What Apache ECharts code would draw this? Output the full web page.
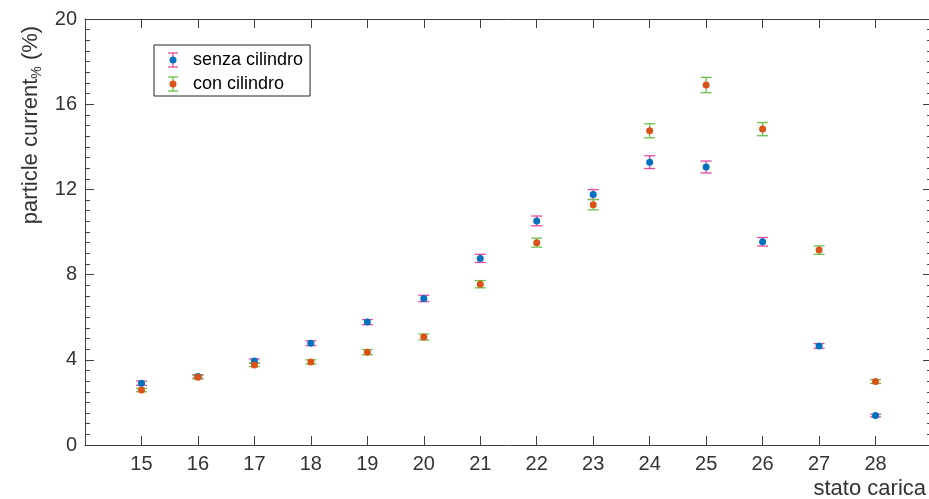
<!DOCTYPE html>
<html>
<head>
<meta charset="utf-8">
<script src="https://cdn.jsdelivr.net/npm/echarts@6/dist/echarts.min.js"></script>
<style>
html,body{margin:0;padding:0;background:#fff;}
#chart{width:929px;height:499px;}
</style>
</head>
<body>
<div id="chart"></div>
<script>
// ---- data ----
const categories = [15, 16, 17, 18, 19, 20, 21, 22, 23, 24, 25, 26, 27, 28];
const senzaValues = [2.90, 3.22, 3.94, 4.78, 5.77, 6.88, 8.76, 10.52, 11.76, 13.28, 13.05, 9.54, 4.65, 1.38];
const senzaErr    = [0.10, 0.08, 0.10, 0.11, 0.12, 0.15, 0.19, 0.23, 0.23, 0.30, 0.28, 0.20, 0.11, 0.06];
const conValues   = [2.58, 3.18, 3.76, 3.90, 4.36, 5.07, 7.55, 9.50, 11.28, 14.75, 16.90, 14.83, 9.15, 2.98];
const conErr      = [0.08, 0.08, 0.08, 0.10, 0.12, 0.14, 0.17, 0.21, 0.24, 0.33, 0.36, 0.31, 0.20, 0.09];
const yTicks = [0, 4, 8, 12, 16, 20];
const seriesNames = ['senza cilindro', 'con cilindro'];

const FONT = '"Liberation Sans", Arial, Helvetica, sans-serif';
const AX = '#404040';
const TXT = '#333333';
const blue = '#0072BD', orange = '#D95319';
const pink = '#E64A9E', green = '#6CBF4A';

function errData(vals, errs) { return categories.map((c, i) => [c, vals[i], errs[i]]); }
function ptData(vals) { return categories.map((c, i) => [c, vals[i]]); }

function errRender(color) {
  return function (params, api) {
    const x = api.value(0), y = api.value(1), e = api.value(2);
    const t = api.coord([x, y + e]);
    const b = api.coord([x, y - e]);
    const hw = 5.5;
    const st = { stroke: color, lineWidth: 1.3 };
    return {
      type: 'group',
      children: [
        { type: 'line', shape: { x1: t[0], y1: t[1], x2: b[0], y2: b[1] }, style: st },
        { type: 'line', shape: { x1: t[0] - hw, y1: t[1], x2: t[0] + hw, y2: t[1] }, style: st },
        { type: 'line', shape: { x1: b[0] - hw, y1: b[1], x2: b[0] + hw, y2: b[1] }, style: st }
      ]
    };
  };
}

function xAxisCfg(pos, labels) {
  return {
    type: 'value', position: pos, min: 14, max: 29, interval: 1,
    axisLine: { show: true, onZero: false, lineStyle: { color: AX, width: 1 } },
    axisTick: { show: true, inside: true, length: 9, lineStyle: { color: AX, width: 1 } },
    axisLabel: {
      show: labels, margin: 9, fontSize: 20, fontFamily: FONT, color: TXT,
      formatter: v => (categories.indexOf(v) >= 0 ? String(v) : '')
    },
    splitLine: { show: false }
  };
}
function yAxisCfg(pos, labels) {
  return {
    type: 'value', position: pos, min: yTicks[0], max: yTicks[yTicks.length - 1],
    interval: yTicks[1] - yTicks[0],
    axisLine: { show: true, onZero: false, lineStyle: { color: AX, width: 1 } },
    axisTick: { show: true, inside: true, length: 9, lineStyle: { color: AX, width: 1 } },
    minorTick: { show: true, splitNumber: 8, length: 5, lineStyle: { color: AX, width: 1 } },
    axisLabel: { show: labels, margin: 8, fontSize: 20, fontFamily: FONT, color: TXT },
    splitLine: { show: false }, minorSplitLine: { show: false }
  };
}

function legendIcon(cx, cy, barColor, dotColor) {
  const st = { stroke: barColor, lineWidth: 1.3 };
  return [
    { type: 'line', z: 100, shape: { x1: cx - 5, y1: cy - 7, x2: cx + 5, y2: cy - 7 }, style: st },
    { type: 'line', z: 100, shape: { x1: cx - 5, y1: cy + 7, x2: cx + 5, y2: cy + 7 }, style: st },
    { type: 'line', z: 100, shape: { x1: cx, y1: cy - 7, x2: cx, y2: cy + 7 }, style: st },
    { type: 'circle', z: 101, shape: { cx: cx, cy: cy, r: 3.5 }, style: { fill: dotColor } }
  ];
}

const chart = echarts.init(document.getElementById('chart'), null, { renderer: 'canvas' });
chart.setOption({
  animation: false,
  backgroundColor: '#ffffff',
  grid: { left: 85, top: 19, width: 847, height: 426, containLabel: false, outerBoundsMode: 'none' },
  xAxis: [xAxisCfg('bottom', true), xAxisCfg('top', false)],
  yAxis: [yAxisCfg('left', true), yAxisCfg('right', false)],
  legend: {
    orient: 'vertical', left: 154, top: 45,
    padding: [6, 7, 3, 8], itemGap: 6, itemWidth: 26, itemHeight: 14,
    borderColor: '#262626', borderWidth: 1, backgroundColor: '#ffffff',
    itemStyle: { opacity: 0 },
    textStyle: { fontSize: 18, fontFamily: FONT, color: '#000' },
    data: seriesNames,
    selectedMode: false
  },
  graphic: [
    ...legendIcon(173, 60, pink, blue),
    ...legendIcon(173, 84, green, orange),
    {
      type: 'text', x: 31, y: 125, rotation: Math.PI / 2,
      style: {
        text: '{a|particle current}{s|%}{a| (%)}',
        align: 'center', verticalAlign: 'middle',
        fill: TXT, font: '22px ' + FONT,
        rich: {
          a: { fontSize: 22, fontFamily: FONT, fill: TXT, lineHeight: 26, verticalAlign: 'middle' },
          s: { fontSize: 14, fontFamily: FONT, fill: TXT, lineHeight: 14, verticalAlign: 'bottom' }
        }
      }
    },
    {
      type: 'text', x: 926, y: 489,
      style: { text: 'stato carica', align: 'right', verticalAlign: 'middle', fill: TXT, font: '22px ' + FONT }
    }
  ],
  series: [
    { name: seriesNames[0], type: 'custom', renderItem: errRender(pink), data: errData(senzaValues, senzaErr),
      encode: { x: 0, y: 1 }, z: 2, itemStyle: { color: blue } },
    { name: seriesNames[0], type: 'scatter', data: ptData(senzaValues), symbol: 'circle', symbolSize: 7,
      itemStyle: { color: blue, opacity: 1 }, z: 2 },
    { name: seriesNames[1], type: 'custom', renderItem: errRender(green), data: errData(conValues, conErr),
      encode: { x: 0, y: 1 }, z: 2, itemStyle: { color: orange } },
    { name: seriesNames[1], type: 'scatter', data: ptData(conValues), symbol: 'circle', symbolSize: 7,
      itemStyle: { color: orange, opacity: 1 }, z: 2 }
  ]
});
</script>
</body>
</html>
